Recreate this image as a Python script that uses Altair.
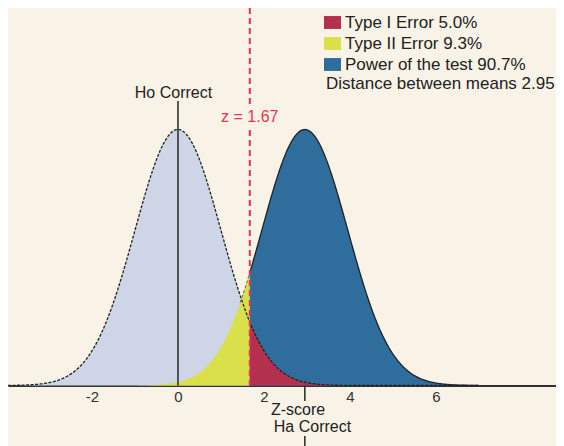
import numpy as np
import pandas as pd
import altair as alt

# ---- values ----
MEANS = [0.0, 2.95]                 # Ho mean, Ha mean (z units)
CRIT_Z = 1.67                       # critical z
LEGEND_LABELS = ["Type I Error 5.0%", "Type II Error 9.3%", "Power of the test 90.7%"]
LEGEND_COLORS = ["#B3304E", "#DAE04A", "#2F6E9C"]
H0_FILL = "#CDD5E7"
TICK_VALUES = [-2, 0, 2, 4, 6]
DISTANCE_TEXT = "Distance between means 2.95"
X_DOMAIN = [-3.953, 8.791]
Y_DOMAIN = [0.0, 0.5883]

FONT = "Liberation Sans, Arial, sans-serif"
BG = "#F8F3E6"


def pdf(x, mu):
    return np.exp(-0.5 * (x - mu) ** 2) / np.sqrt(2 * np.pi)


xl = np.linspace(-3.95, CRIT_Z, 300)
xr = np.linspace(CRIT_Z, 7.0, 300)
xa = np.linspace(-3.95, 7.0, 600)
xt = np.linspace(1.45, CRIT_Z, 20)

h0_body = pd.DataFrame({"x": xl, "y": pdf(xl, MEANS[0])})
type2 = pd.DataFrame({"x": xl, "y": pdf(xl, MEANS[1]), "region": LEGEND_LABELS[1]})
power = pd.DataFrame({"x": xr, "y": pdf(xr, MEANS[1]), "region": LEGEND_LABELS[2]})
type1 = pd.DataFrame({"x": xr, "y": pdf(xr, MEANS[0]), "region": LEGEND_LABELS[0]})
h0_line = pd.DataFrame({"x": xa, "y": pdf(xa, MEANS[0])})
ha_line_r = pd.DataFrame({"x": xr, "y": pdf(xr, MEANS[1])})
ha_line_l = pd.DataFrame({"x": xt, "y": pdf(xt, MEANS[1])})

xs = alt.Scale(domain=X_DOMAIN, nice=False, zero=False)
ys = alt.Scale(domain=Y_DOMAIN, nice=False, zero=False)

X = alt.X("x:Q", scale=xs, axis=alt.Axis(values=TICK_VALUES, ticks=False, grid=False, title=None,
                                         labelExpr="'' + datum.value",
                                         labelFontSize=15, labelFont=FONT, labelColor="#333",
                                         domainColor="#333", domainWidth=2, labelPadding=4,
                                         labelFlush=False))
Y = alt.Y("y:Q", scale=ys, axis=None)

color = alt.Color("region:N",
                  scale=alt.Scale(domain=LEGEND_LABELS, range=LEGEND_COLORS),
                  legend=alt.Legend(orient="none", legendX=316, legendY=6, title=None,
                                    symbolType="M-1,-0.76H1V0.76H-1Z", symbolSize=289,
                                    symbolStrokeWidth=0, symbolOpacity=1,
                                    labelFontSize=17, labelFont=FONT, labelColor="#222",
                                    labelOffset=4, rowPadding=3, labelLimit=300))

l_h0 = alt.Chart(h0_body).mark_area(color=H0_FILL, opacity=1).encode(x=X, y=Y, y2=alt.datum(0))
l_t2 = alt.Chart(type2).mark_area(opacity=1).encode(x=X, y=Y, y2=alt.datum(0), color=color)
l_pw = alt.Chart(power).mark_area(opacity=1).encode(x=X, y=Y, y2=alt.datum(0), color=color)
l_t1 = alt.Chart(type1).mark_area(opacity=1).encode(x=X, y=Y, y2=alt.datum(0), color=color)

o_h0 = alt.Chart(h0_line).mark_line(color="#222", strokeWidth=1.3, strokeDash=[3, 1.5]).encode(x=X, y=Y)
o_har = alt.Chart(ha_line_r).mark_line(color="#222", strokeWidth=1.3).encode(x=X, y=Y)
o_hal = alt.Chart(ha_line_l).mark_line(color="#555", strokeWidth=1, strokeDash=[3, 2]).encode(x=X, y=Y)

# vertical reference lines (data coordinates)
rules_dark = pd.DataFrame({
    "x": [MEANS[0], MEANS[1], MEANS[1]],
    "y": [0.4433, 0.0, -0.0787],
    "y2": [0.0, -0.0242, -0.0943],
})
r_dark = alt.Chart(rules_dark).mark_rule(color="#333", strokeWidth=1.6).encode(
    x=alt.X("x:Q", scale=xs), y=alt.Y("y:Q", scale=ys), y2="y2:Q")

rules_red = pd.DataFrame({"x": [CRIT_Z, CRIT_Z], "y": [0.5883, 0.3982], "y2": [0.4341, 0.0]})
r_red = alt.Chart(rules_red).mark_rule(color="#E8334F", strokeWidth=2, strokeDash=[6, 4]).encode(
    x=alt.X("x:Q", scale=xs), y=alt.Y("y:Q", scale=ys), y2="y2:Q")

labels_dark = pd.DataFrame({
    "x": [-0.105, 2.791, 3.128],
    "y": [0.4558, -0.0382, -0.0639],
    "t": ["Ho Correct", "Z-score", "Ha Correct"],
})
t_dark = alt.Chart(labels_dark).mark_text(fontSize=16, font=FONT, color="#222", baseline="middle",
                                          align="center").encode(
    x=alt.X("x:Q", scale=xs), y=alt.Y("y:Q", scale=ys), text="t:N")

labels_red = pd.DataFrame({"x": [CRIT_Z], "y": [0.4184], "t": ["z = 1.67"]})
t_red = alt.Chart(labels_red).mark_text(fontSize=16, font=FONT, color="#E8334F", baseline="middle",
                                        align="center").encode(
    x=alt.X("x:Q", scale=xs), y=alt.Y("y:Q", scale=ys), text="t:N")

dist = pd.DataFrame({"x": [3.442], "y": [0.4700], "t": [DISTANCE_TEXT]})
t_dist = alt.Chart(dist).mark_text(fontSize=17, font=FONT, color="#222", baseline="middle",
                                   align="left").encode(
    x=alt.X("x:Q", scale=xs), y=alt.Y("y:Q", scale=ys), text="t:N")

chart = alt.layer(l_h0, l_t2, l_pw, l_t1, o_h0, o_hal, o_har, r_dark, r_red,
                  t_dark, t_red, t_dist).properties(
    width=548, height=377.5,
    padding={"left": 0, "top": 0, "right": 0, "bottom": 60.5},
    autosize=alt.AutoSizeParams(type="none"),
    background=BG,
).configure_view(strokeWidth=0)

chart.save("out.html", embed_options={"renderer": "svg", "actions": False})
